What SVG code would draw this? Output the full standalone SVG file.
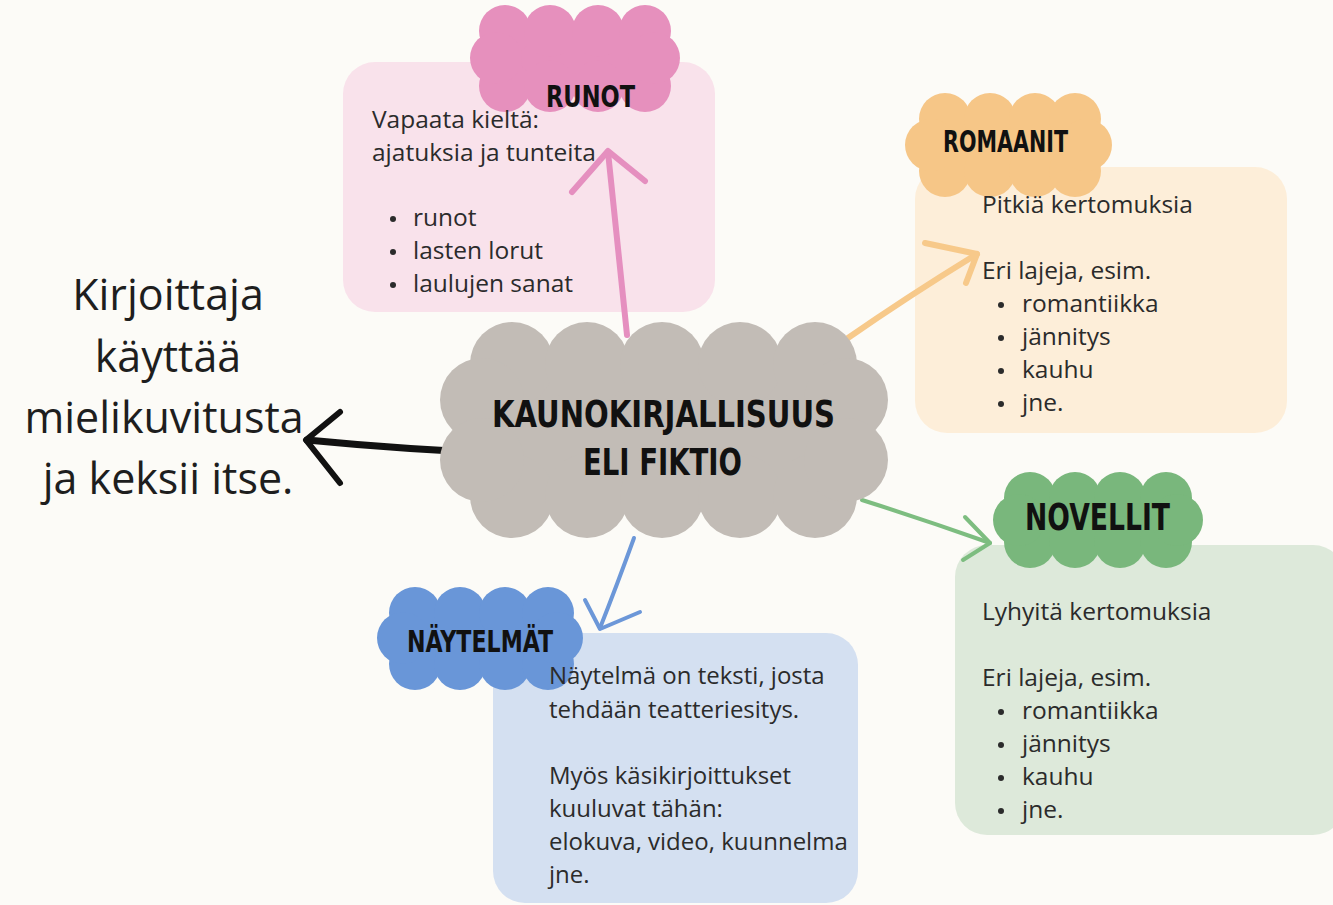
<svg xmlns="http://www.w3.org/2000/svg" width="1333" height="905" viewBox="0 0 1333 905">
<style>
.body{font-family:"Open Sans","Noto Sans","DejaVu Sans",sans-serif;font-size:24px;fill:#2b2b2b}
.wide{font-size:24.5px}
.big{font-family:"Open Sans","Noto Sans","DejaVu Sans",sans-serif;font-size:43px;fill:#1e1e1e;text-anchor:middle}
.head{font-family:"DejaVu Sans Condensed","DejaVu Sans","Liberation Sans",sans-serif;font-weight:bold;fill:#111}
.arrow{fill:none;stroke-linecap:round;stroke-linejoin:round}
</style>
<rect x="0" y="0" width="1333" height="905" fill="#fcfbf7"/>

<g id="box-runot"><rect x="343" y="62" width="372" height="250" rx="32" fill="#f9e2eb"/></g>
<g id="box-romaanit"><rect x="915" y="167" width="372" height="266" rx="32" fill="#fdeed9"/></g>
<g id="box-naytelmat"><rect x="493" y="633" width="365" height="270" rx="32" fill="#d4e0f1"/></g>
<g id="box-novellit"><rect x="955" y="545" width="390" height="290" rx="32" fill="#dde9da"/></g>

<g id="connectors" class="arrow">
  <g stroke="#e58fbf" stroke-width="6">
    <path d="M627 335 Q617 240 608 152"/>
    <path d="M572 192 L608 151 L645 181"/>
  </g>
  <g stroke="#f7c98a" stroke-width="6">
    <path d="M845 340 Q910 295 977 254"/>
    <path d="M925 243 L977 254 L966 283"/>
  </g>
  <g stroke="#6c97d8" stroke-width="4">
    <path d="M634 538 Q617 585 600 628"/>
    <path d="M585 600 L600 629 L640 612"/>
  </g>
  <g stroke="#7dbd80" stroke-width="4">
    <path d="M862 500 Q925 520 990 543"/>
    <path d="M965 517 L990 543 L963 560"/>
  </g>
  <g stroke="#111" stroke-width="7">
    <path d="M553 455 Q430 452 307 440"/>
    <path d="M340 412 L306 440 L340 483" stroke-width="6"/>
  </g>
</g>

<g id="node-center">
  <g fill="#c2bcb6">
    <rect x="482" y="364" width="364" height="132"/>
    <circle cx="512" cy="364" r="42"/><circle cx="587" cy="364" r="42"/><circle cx="662" cy="364" r="42"/><circle cx="740" cy="364" r="42"/><circle cx="815" cy="364" r="42"/>
    <circle cx="512" cy="496" r="42"/><circle cx="587" cy="496" r="42"/><circle cx="662" cy="496" r="42"/><circle cx="740" cy="496" r="42"/><circle cx="815" cy="496" r="42"/>
    <circle cx="482" cy="400" r="42"/><circle cx="482" cy="460" r="42"/>
    <circle cx="846" cy="400" r="42"/><circle cx="846" cy="460" r="42"/>
  </g>
  <text class="head" x="492" y="427" font-size="37" textLength="343" lengthAdjust="spacingAndGlyphs">KAUNOKIRJALLISUUS</text>
  <text class="head" x="583" y="475" font-size="37" textLength="159" lengthAdjust="spacingAndGlyphs">ELI FIKTIO</text>
</g>

<g id="node-runot">
  <g fill="#e690bd">
    <rect x="496" y="31" width="158" height="55"/>
    <circle cx="505" cy="31" r="26"/><circle cx="550" cy="31" r="26"/><circle cx="598" cy="31" r="26"/><circle cx="645" cy="31" r="26"/>
    <circle cx="505" cy="86" r="26"/><circle cx="550" cy="86" r="26"/><circle cx="598" cy="86" r="26"/><circle cx="645" cy="86" r="26"/>
    <circle cx="496" cy="58" r="26"/><circle cx="654" cy="58" r="26"/>
  </g>
  <text class="head" x="546" y="107" font-size="30" textLength="89" lengthAdjust="spacingAndGlyphs">RUNOT</text>
  <text class="body wide" x="372" y="128">Vapaata kieltä:</text>
  <text class="body wide" x="372" y="161">ajatuksia ja tunteita</text>
  <g fill="#2b2b2b"><circle cx="393" cy="219" r="3"/><circle cx="393" cy="252" r="3"/><circle cx="393" cy="285" r="3"/></g>
  <text class="body wide" x="413" y="226">runot</text>
  <text class="body wide" x="413" y="259">lasten lorut</text>
  <text class="body wide" x="413" y="292">laulujen sanat</text>
</g>

<g id="node-romaanit">
  <g fill="#f6c687">
    <rect x="931" y="119" width="155" height="52"/>
    <circle cx="945" cy="119" r="26"/><circle cx="990" cy="119" r="26"/><circle cx="1035" cy="119" r="26"/><circle cx="1075" cy="119" r="26"/>
    <circle cx="945" cy="171" r="26"/><circle cx="990" cy="171" r="26"/><circle cx="1035" cy="171" r="26"/><circle cx="1075" cy="171" r="26"/>
    <circle cx="931" cy="145" r="26"/><circle cx="1086" cy="145" r="26"/>
  </g>
  <text class="head" x="943" y="152" font-size="30" textLength="125" lengthAdjust="spacingAndGlyphs">ROMAANIT</text>
  <text class="body wide" x="982" y="213">Pitkiä kertomuksia</text>
  <text class="body wide" x="982" y="279">Eri lajeja, esim.</text>
  <g fill="#2b2b2b"><circle cx="1001" cy="305" r="3"/><circle cx="1001" cy="338" r="3"/><circle cx="1001" cy="371" r="3"/><circle cx="1001" cy="404" r="3"/></g>
  <text class="body wide" x="1022" y="312">romantiikka</text>
  <text class="body wide" x="1022" y="345">jännitys</text>
  <text class="body wide" x="1022" y="378">kauhu</text>
  <text class="body wide" x="1022" y="411">jne.</text>
</g>

<g id="node-naytelmat">
  <g fill="#6996d8">
    <rect x="403" y="613" width="154" height="51"/>
    <circle cx="415" cy="613" r="26"/><circle cx="460" cy="613" r="26"/><circle cx="505" cy="613" r="26"/><circle cx="548" cy="613" r="26"/>
    <circle cx="415" cy="664" r="26"/><circle cx="460" cy="664" r="26"/><circle cx="505" cy="664" r="26"/><circle cx="548" cy="664" r="26"/>
    <circle cx="403" cy="638" r="26"/><circle cx="557" cy="638" r="26"/>
  </g>
  <text class="head" x="407" y="652" font-size="30" textLength="146" lengthAdjust="spacingAndGlyphs">NÄYTELMÄT</text>
  <text class="body" x="549" y="684">Näytelmä on teksti, josta</text>
  <text class="body" x="549" y="718">tehdään teatteriesitys.</text>
  <text class="body" x="549" y="784">Myös käsikirjoittukset</text>
  <text class="body" x="549" y="817">kuuluvat tähän:</text>
  <text class="body" x="549" y="850">elokuva, video, kuunnelma</text>
  <text class="body" x="549" y="883">jne.</text>
</g>

<g id="node-novellit">
  <g fill="#79b77c">
    <rect x="1019" y="498" width="158" height="44"/>
    <circle cx="1030" cy="498" r="26"/><circle cx="1075" cy="498" r="26"/><circle cx="1120" cy="498" r="26"/><circle cx="1166" cy="498" r="26"/>
    <circle cx="1030" cy="542" r="26"/><circle cx="1075" cy="542" r="26"/><circle cx="1120" cy="542" r="26"/><circle cx="1166" cy="542" r="26"/>
    <circle cx="1019" cy="520" r="26"/><circle cx="1177" cy="520" r="26"/>
  </g>
  <text class="head" x="1025" y="530" font-size="38" textLength="145" lengthAdjust="spacingAndGlyphs">NOVELLIT</text>
  <text class="body wide" x="982" y="620">Lyhyitä kertomuksia</text>
  <text class="body wide" x="982" y="686">Eri lajeja, esim.</text>
  <g fill="#2b2b2b"><circle cx="1001" cy="712" r="3"/><circle cx="1001" cy="745" r="3"/><circle cx="1001" cy="778" r="3"/><circle cx="1001" cy="811" r="3"/></g>
  <text class="body wide" x="1022" y="719">romantiikka</text>
  <text class="body wide" x="1022" y="752">jännitys</text>
  <text class="body wide" x="1022" y="785">kauhu</text>
  <text class="body wide" x="1022" y="818">jne.</text>
</g>

<g id="node-side-text">
  <text class="big" x="168" y="310">Kirjoittaja</text>
  <text class="big" x="168" y="372">käyttää</text>
  <text class="big" x="164" y="433">mielikuvitusta</text>
  <text class="big" x="168" y="494">ja keksii itse.</text>
</g>
</svg>
